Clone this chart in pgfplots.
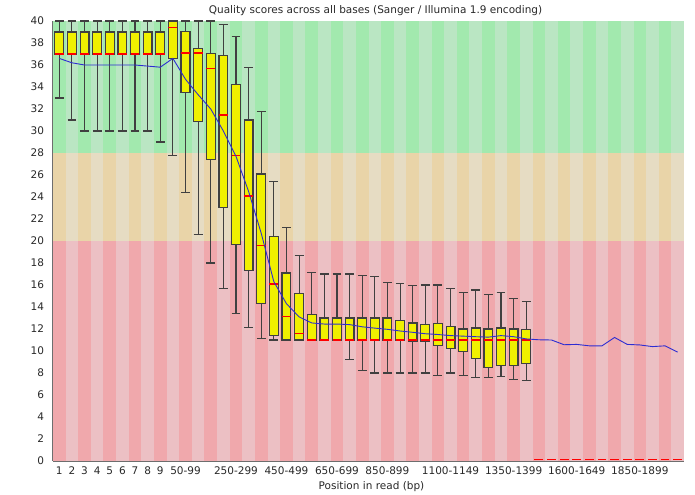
\documentclass[border=0pt]{standalone}
\usepackage{fontspec}
\setmainfont{DejaVu Sans}
\usepackage{pgfplots}
\usepackage{pgfplotstable}
\pgfplotsset{compat=1.18}
\usepgfplotslibrary{statistics}

\definecolor{greendark}{RGB}{162,233,174}
\definecolor{greenlight}{RGB}{186,230,195}
\definecolor{orangedark}{RGB}{233,212,168}
\definecolor{orangelight}{RGB}{230,220,195}
\definecolor{reddark}{RGB}{240,168,172}
\definecolor{redlight}{RGB}{236,192,196}
\definecolor{boxyellow}{RGB}{240,240,0}
\definecolor{boxgray}{RGB}{64,64,64}
\definecolor{medred}{RGB}{255,0,0}
\definecolor{meanblue}{RGB}{45,45,210}
\definecolor{axisgray}{RGB}{110,110,110}
\definecolor{textgray}{RGB}{40,40,40}

% position, lower whisker, lower quartile, median, upper quartile, upper whisker
\newcommand\bx[6]{%
  \addplot[draw=boxgray, fill=boxyellow, line width=1.2bp,
    boxplot prepared={draw position=#1, lower whisker=#2, lower quartile=#3,
      median=#4, upper quartile=#5, upper whisker=#6}]
  coordinates {};}

\pgfplotstableread{
pos mean
1  36.6
2  36.2
3  36.0
4  36.0
5  36.0
6  36.0
7  36.0
8  35.9
9  35.8
10 36.6
11 34.7
12 33.3
13 32.0
14 30.0
15 27.7
16 24.5
17 20.7
18 16.3
19 14.3
20 13.1
21 12.55
22 12.45
23 12.45
24 12.4
25 12.2
26 12.08
27 11.97
28 11.82
29 11.7
30 11.57
31 11.5
32 11.4
33 11.35
34 11.3
35 11.26
36 11.4
37 11.3
38 11.1
39 11.02
40 11.0
41 10.57
42 10.6
43 10.47
44 10.47
45 11.23
46 10.6
47 10.55
48 10.4
49 10.47
50 9.9
}\meandata

\begin{document}
\begin{tikzpicture}
\begin{axis}[
  scale only axis,
  width=631bp, height=440bp,
  xmin=0.5, xmax=50.5, ymin=0, ymax=40,
  clip=false,
  axis x line*=bottom, axis y line*=left,
  axis line style={draw=axisgray, line width=1.6bp},
  major tick length=0pt,
  ytick={0,2,...,40},
  xtick={1,2,3,4,5,6,7,8,9,11,15,19,23,27,32,37,42,47},
  xticklabels={1,2,3,4,5,6,7,8,9,{50-99},{250-299},{450-499},{650-699},{850-899},{1100-1149},{1350-1399},{1600-1649},{1850-1899}},
  /pgf/number format/assume math mode=true,
  ticklabel style={font=\fontsize{10.5bp}{12bp}\selectfont, text=textgray},
  yticklabel style={xshift=-5.5bp},
  xticklabel style={yshift=-2bp},
  xlabel={Position in read (bp)},
  xlabel style={at={(axis description cs:0.5,0)}, anchor=north, yshift=-20.5bp, inner sep=0pt, font=\fontsize{10.5bp}{12bp}\selectfont, text=textgray, xshift=3bp},
  title={Quality scores across all bases (Sanger / Illumina 1.9 encoding)},
  title style={at={(axis description cs:0.5,1)}, anchor=base, yshift=1.7bp, xshift=7bp, inner sep=0pt, font=\fontsize{10.5bp}{12bp}\selectfont, text=textgray},
  boxplot/draw direction=y,
  boxplot/box extend=0.7,
  boxplot/whisker extend=0.7,
  boxplot/every box/.style={draw=boxgray, fill=boxyellow, line width=1.2bp},
  boxplot/every whisker/.style={draw=boxgray, line width=1.1bp},
  boxplot/every median/.style={draw=medred, line width=1.3bp},
]
% background bands
\fill[greenlight] (axis cs:0.5,28) rectangle (axis cs:50.5,40);
\fill[orangelight] (axis cs:0.5,20) rectangle (axis cs:50.5,28);
\fill[redlight] (axis cs:0.5,0) rectangle (axis cs:50.5,20);
\pgfplotsinvokeforeach{0.5,2.5,4.5,6.5,8.5,10.5,12.5,14.5,16.5,18.5,20.5,22.5,24.5,26.5,28.5,30.5,32.5,34.5,36.5,38.5,40.5,42.5,44.5,46.5,48.5}{
  \fill[greendark] (axis cs:#1,28) rectangle ([xshift=12.62bp]axis cs:#1,40);
  \fill[orangedark] (axis cs:#1,20) rectangle ([xshift=12.62bp]axis cs:#1,28);
  \fill[reddark] (axis cs:#1,0) rectangle ([xshift=12.62bp]axis cs:#1,20);
}
% boxes
\bx{1}{33}{37}{37}{39}{40}
\bx{2}{31}{37}{37}{39}{40}
\bx{3}{30}{37}{37}{39}{40}
\bx{4}{30}{37}{37}{39}{40}
\bx{5}{30}{37}{37}{39}{40}
\bx{6}{30}{37}{37}{39}{40}
\bx{7}{30}{37}{37}{39}{40}
\bx{8}{30}{37}{37}{39}{40}
\bx{9}{29}{37}{37}{39}{40}
\bx{10}{27.8}{36.6}{39.4}{40}{40}
\bx{11}{24.4}{33.5}{37.1}{39.06}{40}
\bx{12}{20.6}{30.9}{37.1}{37.5}{40}
\bx{13}{18.0}{27.4}{35.7}{37.05}{40}
\bx{14}{15.7}{23.05}{31.45}{36.9}{39.7}
\bx{15}{13.4}{19.7}{27.8}{34.2}{38.6}
\bx{16}{12.1}{17.3}{24.1}{31.0}{35.8}
\bx{17}{11.1}{14.3}{19.6}{26.1}{31.8}
\bx{18}{11.0}{11.4}{16.1}{20.4}{25.4}
\bx{19}{11.0}{11.0}{13.15}{17.1}{21.25}
\bx{20}{11}{11}{11.6}{15.25}{18.7}
\bx{21}{11}{11}{11}{13.3}{17.1}
\bx{22}{11}{11}{11}{13.0}{17.0}
\bx{23}{11}{11}{11}{13.0}{17.0}
\bx{24}{9.26}{11}{11}{13.0}{17.0}
\bx{25}{8.25}{11}{11}{13.0}{16.9}
\bx{26}{8.0}{11}{11}{13.0}{16.75}
\bx{27}{8.0}{11}{11}{13.0}{16.2}
\bx{28}{8.0}{11}{11}{12.8}{16.1}
\bx{29}{8.0}{10.9}{11}{12.55}{15.95}
\bx{30}{8.0}{10.85}{11}{12.4}{16.0}
\bx{31}{7.8}{10.5}{11}{12.5}{16.0}
\bx{32}{8.0}{10.25}{11}{12.2}{15.65}
\bx{33}{7.77}{9.93}{11}{12.0}{15.3}
\bx{34}{7.6}{9.35}{11}{12.1}{15.55}
\bx{35}{7.6}{8.5}{11}{12.0}{15.1}
\bx{36}{7.7}{8.65}{11}{12.1}{15.35}
\bx{37}{7.43}{8.65}{11}{12.0}{14.8}
\bx{38}{7.3}{8.86}{11}{11.94}{14.5}
% medians of empty positions (drawn just above the axis line)
\addplot[medred, only marks, mark=-, mark size=4.4bp, mark options={line width=1bp}]
  coordinates {(39,0.14) (40,0.14) (41,0.14) (42,0.14) (43,0.14) (44,0.14) (45,0.14) (46,0.14) (47,0.14) (48,0.14) (49,0.14) (50,0.14)};
% mean line
\addplot[meanblue, line width=0.9bp, mark=none] table[x=pos, y=mean] {\meandata};
\end{axis}
\pgfresetboundingbox
\useasboundingbox (-53bp,-34bp) rectangle (642bp,461bp);
\end{tikzpicture}
\end{document}
